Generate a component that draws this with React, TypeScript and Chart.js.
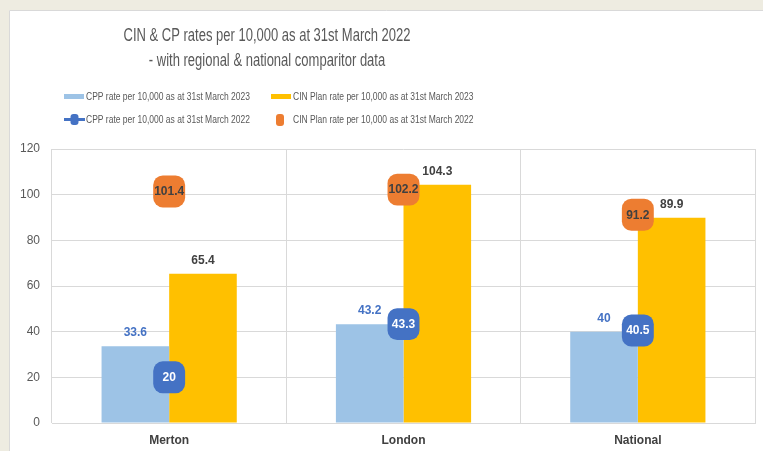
import React, { useEffect, useRef } from "react";
import { Chart, registerables } from "chart.js";

Chart.register(...registerables);

// ---- Data ----
const categories = ["Merton", "London", "National"];
const cpp2023 = [33.6, 43.2, 40];
const cin2023 = [65.4, 104.3, 89.9];
const cpp2022 = [20, 43.3, 40.5];
const cin2022 = [101.4, 102.2, 91.2];
const yTickValues = [0, 20, 40, 60, 80, 100, 120];
const titleLines = [
  "CIN & CP rates per 10,000 as at 31st March 2022",
  "- with regional & national comparitor data",
];
const seriesNames = [
  "CPP rate per 10,000 as at 31st March 2023",
  "CIN Plan rate per 10,000 as at 31st March 2023",
  "CPP rate per 10,000 as at 31st March 2022",
  "CIN Plan rate per 10,000 as at 31st March 2022",
];

// ---- Styles ----
const COLORS = {
  page: "#EEECE1",
  panel: "#FFFFFF",
  lightBlue: "#9DC3E6",
  yellow: "#FFC000",
  blue: "#4472C4",
  orange: "#ED7D31",
  grid: "#D9D9D9",
  text: "#595959",
  dark: "#404040",
};
const FONT = "'Liberation Sans', Arial, sans-serif";

function drawCondensed(
  ctx: CanvasRenderingContext2D,
  text: string,
  x: number,
  y: number,
  align: CanvasTextAlign,
  sx: number
) {
  ctx.save();
  ctx.translate(x, y);
  ctx.scale(sx, 1);
  ctx.textAlign = align;
  ctx.textBaseline = "alphabetic";
  ctx.fillText(text, 0, 0);
  ctx.restore();
}

function roundRect(
  ctx: CanvasRenderingContext2D,
  x: number,
  y: number,
  w: number,
  h: number,
  r: number
) {
  ctx.beginPath();
  ctx.moveTo(x + r, y);
  ctx.lineTo(x + w - r, y);
  ctx.quadraticCurveTo(x + w, y, x + w, y + r);
  ctx.lineTo(x + w, y + h - r);
  ctx.quadraticCurveTo(x + w, y + h, x + w - r, y + h);
  ctx.lineTo(x + r, y + h);
  ctx.quadraticCurveTo(x, y + h, x, y + h - r);
  ctx.lineTo(x, y + r);
  ctx.quadraticCurveTo(x, y, x + r, y);
  ctx.closePath();
}

const backgroundPlugin = {
  id: "panelBackground",
  beforeDraw(chart: any) {
    const ctx = chart.ctx as CanvasRenderingContext2D;
    ctx.save();
    ctx.fillStyle = COLORS.page;
    ctx.fillRect(0, 0, chart.width, chart.height);
    ctx.fillStyle = COLORS.panel;
    ctx.fillRect(9, 10, chart.width - 9, chart.height - 10);
    ctx.strokeStyle = "#D9D9D9";
    ctx.lineWidth = 1;
    ctx.beginPath();
    ctx.moveTo(9.5, chart.height);
    ctx.lineTo(9.5, 10.5);
    ctx.lineTo(chart.width, 10.5);
    ctx.stroke();
    ctx.restore();
  },
};

const titleLegendPlugin = {
  id: "titleLegend",
  afterDraw(chart: any) {
    const ctx = chart.ctx as CanvasRenderingContext2D;
    ctx.save();
    // Title
    ctx.font = `17.5px ${FONT}`;
    ctx.fillStyle = COLORS.text;
    const tsx = 287 / ctx.measureText(titleLines[0]).width;
    drawCondensed(ctx, titleLines[0], 267, 41, "center", tsx);
    drawCondensed(ctx, titleLines[1], 267, 66, "center", tsx);

    // Legend
    ctx.font = `10.5px ${FONT}`;
    const lsx = 164 / ctx.measureText(seriesNames[0]).width;
    const rows = [96.5, 119.5];
    const cols = [64, 271];
    ctx.fillStyle = COLORS.lightBlue;
    ctx.fillRect(cols[0], rows[0] - 2.5, 20, 5);
    ctx.fillStyle = COLORS.yellow;
    ctx.fillRect(cols[1], rows[0] - 2.5, 20, 5);
    ctx.strokeStyle = COLORS.blue;
    ctx.lineWidth = 3;
    ctx.beginPath();
    ctx.moveTo(cols[0], rows[1]);
    ctx.lineTo(cols[0] + 21, rows[1]);
    ctx.stroke();
    ctx.fillStyle = COLORS.blue;
    roundRect(ctx, cols[0] + 6.5, rows[1] - 5.5, 8, 11, 3);
    ctx.fill();
    ctx.fillStyle = COLORS.orange;
    roundRect(ctx, cols[1] + 5, rows[1] - 5.5, 8, 12, 3);
    ctx.fill();

    ctx.fillStyle = COLORS.text;
    drawCondensed(ctx, seriesNames[0], cols[0] + 22, rows[0] + 3.8, "left", lsx);
    drawCondensed(ctx, seriesNames[1], cols[1] + 22, rows[0] + 3.8, "left", lsx);
    drawCondensed(ctx, seriesNames[2], cols[0] + 22, rows[1] + 3.8, "left", lsx);
    drawCondensed(ctx, seriesNames[3], cols[1] + 22, rows[1] + 3.8, "left", lsx);
    ctx.restore();
  },
};

const dataLabelPlugin = {
  id: "dataLabels",
  afterDatasetsDraw(chart: any) {
    const ctx = chart.ctx as CanvasRenderingContext2D;
    ctx.save();
    ctx.font = `bold 12px ${FONT}`;
    ctx.textAlign = "center";
    chart.data.datasets.forEach((ds: any, i: number) => {
      const meta = chart.getDatasetMeta(i);
      meta.data.forEach((el: any, j: number) => {
        const v = ds.data[j];
        ctx.fillStyle = ds.labelColor;
        if (ds.type === "line") {
          ctx.textBaseline = "middle";
          ctx.fillText(String(v), el.x, el.y + 0.5);
        } else {
          ctx.textBaseline = "alphabetic";
          ctx.fillText(String(v), el.x, el.y - 10);
        }
      });
    });
    ctx.restore();
  },
};

export default function App() {
  const canvasRef = useRef<HTMLCanvasElement | null>(null);

  useEffect(() => {
    if (!canvasRef.current) return;
    Chart.defaults.font.family = FONT;
    const chart = new Chart(canvasRef.current, {
      type: "bar",
      data: {
        labels: categories,
        datasets: [
          {
            type: "line",
            label: seriesNames[2],
            data: cpp2022,
            showLine: false,
            pointStyle: "rectRounded",
            pointRadius: 18.6,
            pointHoverRadius: 18.6,
            pointBackgroundColor: COLORS.blue,
            pointBorderColor: COLORS.blue,
            pointBorderWidth: 0,
            borderColor: COLORS.blue,
            backgroundColor: COLORS.blue,
            order: 0,
            labelColor: "#FFFFFF",
          } as any,
          {
            type: "line",
            label: seriesNames[3],
            data: cin2022,
            showLine: false,
            pointStyle: "rectRounded",
            pointRadius: 18.6,
            pointHoverRadius: 18.6,
            pointBackgroundColor: COLORS.orange,
            pointBorderColor: COLORS.orange,
            pointBorderWidth: 0,
            borderColor: COLORS.orange,
            backgroundColor: COLORS.orange,
            order: 0,
            labelColor: COLORS.dark,
          } as any,
          {
            type: "bar",
            label: seriesNames[0],
            data: cpp2023,
            backgroundColor: COLORS.lightBlue,
            barPercentage: 1,
            categoryPercentage: 0.577,
            order: 1,
            labelColor: COLORS.blue,
          } as any,
          {
            type: "bar",
            label: seriesNames[1],
            data: cin2023,
            backgroundColor: COLORS.yellow,
            barPercentage: 1,
            categoryPercentage: 0.577,
            order: 1,
            labelColor: COLORS.dark,
          } as any,
        ],
      },
      options: {
        responsive: false,
        animation: false,
        events: [],
        layout: {
          autoPadding: false,
          padding: { left: 10, right: 8, top: 149, bottom: 0 },
        },
        plugins: {
          legend: { display: false },
          title: { display: false },
          tooltip: { enabled: false },
        },
        scales: {
          x: {
            grid: { color: COLORS.grid, drawTicks: false, offset: true },
            border: { color: COLORS.grid },
            ticks: {
              color: COLORS.dark,
              font: { size: 12, weight: "bold" },
              padding: 10,
            },
            afterFit: (s: any) => {
              s.height = 28;
            },
          },
          y: {
            min: yTickValues[0],
            max: yTickValues[yTickValues.length - 1],
            ticks: {
              stepSize: yTickValues[1] - yTickValues[0],
              color: COLORS.text,
              font: { size: 12 },
              padding: 12,
            },
            grid: { color: COLORS.grid, drawTicks: false },
            border: { display: false },
            afterFit: (s: any) => {
              s.width = 42;
            },
          },
        },
      },
      plugins: [backgroundPlugin, titleLegendPlugin, dataLabelPlugin],
    });
    return () => chart.destroy();
  }, []);

  return (
    <div style={{ position: "absolute", left: 0, top: 0, width: 763, height: 451 }}>
      <canvas ref={canvasRef} width={763} height={451} style={{ display: "block" }} />
    </div>
  );
}
